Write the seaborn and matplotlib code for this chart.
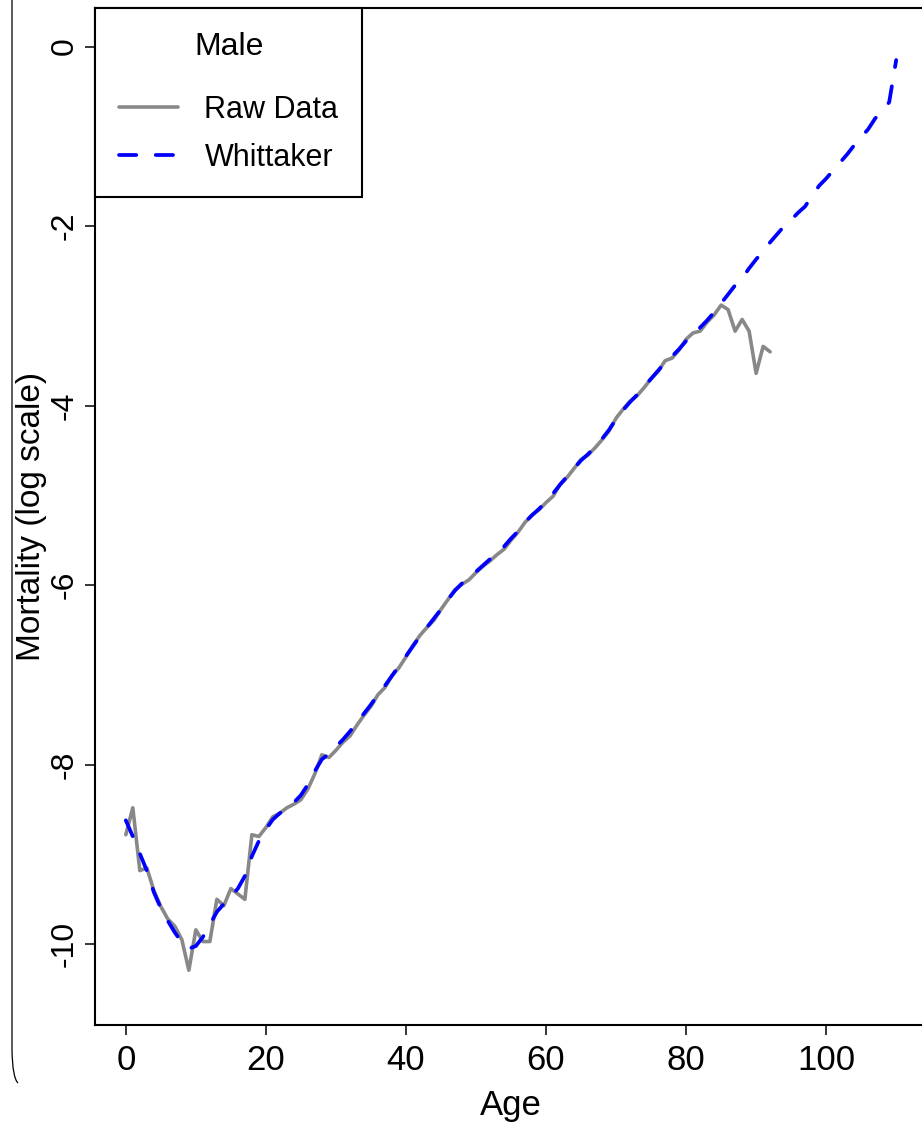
import numpy as np
import pandas as pd
import matplotlib
matplotlib.use("Agg")
import matplotlib.pyplot as plt
import seaborn as sns
from matplotlib import font_manager as fm
from matplotlib.path import Path
from matplotlib.patches import PathPatch

# ---------------- data ----------------
raw_ages = list(range(0, 93))
raw_log_mortality = [
    -8.78, -8.48, -9.18, -9.15, -9.40, -9.58, -9.72, -9.80, -9.95, -10.29,
    -9.84, -9.97, -9.97, -9.50, -9.57, -9.38, -9.44, -9.50, -8.78, -8.80,
    -8.70, -8.58, -8.54, -8.48, -8.44, -8.39, -8.27, -8.10, -7.89, -7.92,
    -7.84, -7.75, -7.68, -7.56, -7.45, -7.35, -7.22, -7.14, -7.01, -6.92,
    -6.80, -6.67, -6.56, -6.47, -6.39, -6.27, -6.16, -6.05, -5.99, -5.94,
    -5.86, -5.79, -5.73, -5.66, -5.60, -5.50, -5.41, -5.30, -5.22, -5.16,
    -5.08, -5.01, -4.88, -4.80, -4.70, -4.60, -4.55, -4.47, -4.38, -4.28,
    -4.14, -4.04, -3.95, -3.89, -3.80, -3.70, -3.62, -3.50, -3.47, -3.38,
    -3.26, -3.19, -3.17, -3.07, -2.99, -2.88, -2.93, -3.17, -3.04, -3.17,
    -3.64, -3.34, -3.40,
]

whit_ages = list(range(0, 111))
whittaker_log_mortality = [
    -8.62, -8.80, -8.99, -9.18, -9.42, -9.60, -9.74, -9.87, -9.98, -10.05,
    -10.02, -9.92, -9.78, -9.64, -9.55, -9.47, -9.38, -9.24, -9.02, -8.85,
    -8.72, -8.61, -8.54, -8.48, -8.42, -8.34, -8.22, -8.07, -7.94, -7.88,
    -7.80, -7.72, -7.63, -7.53, -7.43, -7.33, -7.22, -7.12, -7.01, -6.90,
    -6.79, -6.68, -6.57, -6.47, -6.37, -6.27, -6.16, -6.06, -5.98, -5.92,
    -5.85, -5.78, -5.71, -5.64, -5.57, -5.48, -5.40, -5.30, -5.22, -5.15,
    -5.07, -4.98, -4.88, -4.79, -4.70, -4.61, -4.54, -4.46, -4.37, -4.27,
    -4.15, -4.05, -3.96, -3.88, -3.79, -3.70, -3.61, -3.52, -3.45, -3.37,
    -3.28, -3.20, -3.13, -3.05, -2.96, -2.86, -2.76, -2.66, -2.58, -2.47,
    -2.37, -2.28, -2.18, -2.09, -2.00, -1.93, -1.85, -1.78, -1.66, -1.55,
    -1.47, -1.38, -1.29, -1.20, -1.10, -1.01, -0.92, -0.80, -0.72, -0.62,
    -0.15,
]

x_ticks = [0, 20, 40, 60, 80, 100]
y_ticks = [0, -2, -4, -6, -8, -10]
legend_title = "Male"
series_labels = ["Raw Data", "Whittaker"]
x_label = "Age"
y_label = "Mortality (log scale)"

# ---------------- style ----------------
sns.set_style("white")
names = {f.name for f in fm.fontManager.ttflist}
BASE = "Liberation Sans" if "Liberation Sans" in names else "DejaVu Sans"
NARROW = "Liberation Sans Narrow" if "Liberation Sans Narrow" in names else BASE
plt.rcParams["font.family"] = [BASE, "DejaVu Sans"]
plt.rcParams["axes.unicode_minus"] = False
plt.rcParams["text.color"] = "black"
plt.rcParams["axes.labelcolor"] = "black"
plt.rcParams["xtick.color"] = "black"
plt.rcParams["ytick.color"] = "black"

W, H = 922, 1127
fig = plt.figure(figsize=(W / 100, H / 100), dpi=100)
ax = fig.add_axes([95 / W, 1 - 1025 / H, (927 - 95) / W, (1025 - 8) / H])

raw_df = pd.DataFrame({"age": raw_ages, "val": raw_log_mortality})
whit_df = pd.DataFrame({"age": whit_ages, "val": whittaker_log_mortality})

sns.lineplot(data=raw_df, x="age", y="val", ax=ax, color="#888888",
             linewidth=2.6, label=series_labels[0], errorbar=None,
             solid_joinstyle="round", solid_capstyle="round")
sns.lineplot(data=whit_df, x="age", y="val", ax=ax, color="#0000ff",
             linewidth=2.7, linestyle=(0, (4.6, 5.2)), label=series_labels[1],
             errorbar=None, dash_capstyle="round", dash_joinstyle="round")

ax.set_xlim(-4.4, 114.4)
ax.set_ylim(-10.90, 0.43)
ax.set_xticks(x_ticks)
ax.set_yticks(y_ticks)
ax.set_xticklabels([str(t) for t in x_ticks], fontsize=25,
                   family=[NARROW, "DejaVu Sans"], color="black")
ax.set_yticklabels([str(t) for t in y_ticks], fontsize=23, rotation=90,
                   va="center", family=[NARROW, "DejaVu Sans"], color="black")
ax.tick_params(axis="both", direction="out", length=7.5, width=1.1,
               color="black", labelcolor="black", bottom=True, left=True)
ax.tick_params(axis="x", pad=6)
ax.tick_params(axis="y", pad=3.6)

ax.set_xlabel(x_label, fontsize=25, family=[NARROW, "DejaVu Sans"],
              labelpad=9, color="black")
ax.set_ylabel(y_label, fontsize=24, color="black")
ax.yaxis.set_label_coords((47 - 95) / 832, 0.5)

for sp in ax.spines.values():
    sp.set_color("black")
    sp.set_linewidth(1.5)
    sp.set_visible(True)

leg = ax.legend(title=legend_title, loc="upper left", bbox_to_anchor=(0, 1),
                borderaxespad=0, frameon=True, fancybox=False, shadow=False,
                fontsize=22, title_fontsize=23, handlelength=1.95,
                handletextpad=0.85, borderpad=0.78, labelspacing=0.58,
                labelcolor="black")
leg._legend_box.sep = 24
leg.get_title().set_color("black")
leg.get_frame().set_edgecolor("black")
leg.get_frame().set_linewidth(1.5)
leg.get_frame().set_alpha(1)

# decorative rounded frame edge on the left of the picture
verts = [(12 / W, 1.0), (12 / W, 1 - 1050 / H), (12.5 / W, 1 - 1078 / H),
         (18 / W, 1 - 1083 / H)]
codes = [Path.MOVETO, Path.LINETO, Path.CURVE3, Path.CURVE3]
fig.add_artist(PathPatch(Path(verts, codes), transform=fig.transFigure,
                         facecolor="none", edgecolor="black", linewidth=0.9))

fig.savefig("out.png", dpi=100)
